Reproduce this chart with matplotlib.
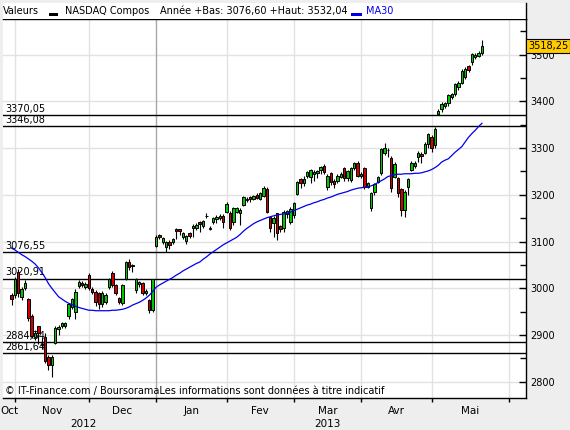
"""
NASDAQ Composite daily candles with MA30 and support/resistance levels (Boursorama style).
"""

import matplotlib
matplotlib.use("Agg")
import matplotlib.pyplot as plt
import matplotlib.transforms as mtransforms
from matplotlib.lines import Line2D
from matplotlib.patches import Rectangle
import numpy as np

# daily candles, 30 Oct 2012 -> mid May 2013
opens = [
    2986, 2986, 3035, 2982, 3000, 2977, 2941, 2896, 2919, 2880,
    2896, 2854, 2836, 2882, 2913, 2919, 2919, 2941, 2961, 2950,
    3005, 3012, 3002, 3028, 2998, 2993, 2990, 2966, 2971, 3003,
    3033, 3007, 2979, 2968, 3019, 3057, 3049, 2996, 3010, 3011,
    2990, 2975, 2954,
    3091, 3114, 3100, 3089, 3100, 3098, 3126, 3126, 3110, 3101,
    3118, 3128, 3130, 3141, 3134, 3155, 3126, 3141, 3148, 3150, 3155,
    3164, 3162, 3141, 3164, 3160, 3178, 3188, 3196, 3191, 3200,
    3192, 3198, 3212, 3153, 3140, 3160, 3133, 3128, 3158, 3142,
    3157, 3202, 3233, 3225, 3241, 3237, 3244, 3246, 3252, 3262,
    3217, 3246, 3230, 3230, 3238, 3257, 3235, 3232, 3257, 3269, 3240,
    3257, 3217, 3171, 3207, 3228, 3246, 3289, 3296, 3278, 3239,
    3235, 3212, 3167, 3217, 3253, 3262, 3280, 3288, 3290, 3308,
    3324, 3307,
    3372, 3383, 3390, 3396, 3410, 3415, 3430, 3440, 3453, 3475,
    3483, 3495, 3497, 3504,
]
highs = [
    2990, 3025, 3041, 3002, 3018, 2980, 2945, 2910, 2920, 2895,
    2904, 2858, 2858, 2920, 2922, 2928, 2927, 2968, 2980, 2998,
    3018, 3016, 3013, 3032, 3003, 2996, 2993, 2994, 2990, 3022,
    3036, 3010, 2982, 3010, 3058, 3062, 3051, 3022, 3016, 3014,
    2998, 2978, 3020,
    3114, 3116, 3110, 3102, 3104, 3108, 3128, 3127, 3120, 3115,
    3120, 3137, 3140, 3143, 3146, 3160, 3133, 3153, 3156, 3158, 3158,
    3184, 3165, 3174, 3174, 3172, 3198, 3196, 3198, 3200, 3203,
    3206, 3218, 3216, 3155, 3155, 3162, 3136, 3167, 3168, 3173,
    3185, 3230, 3236, 3240, 3251, 3256, 3252, 3253, 3262, 3265,
    3244, 3249, 3233, 3244, 3248, 3260, 3253, 3260, 3270, 3272, 3248,
    3260, 3228, 3205, 3226, 3240, 3300, 3310, 3300, 3282, 3270,
    3238, 3215, 3210, 3236, 3273, 3272, 3294, 3292, 3312, 3332,
    3327, 3346,
    3383, 3398, 3399, 3416, 3418, 3440, 3443, 3468, 3473, 3478,
    3504, 3503, 3507, 3532,
]
lows = [
    2964, 2980, 2982, 2975, 2996, 2930, 2893, 2890, 2880, 2870,
    2840, 2825, 2810, 2880, 2900, 2916, 2915, 2935, 2955, 2934,
    3000, 3002, 2998, 2996, 2988, 2962, 2956, 2960, 2966, 2998,
    3003, 2985, 2966, 2965, 3017, 3040, 3035, 2990, 3003, 2985,
    2985, 2948, 2950,
    3088, 3105, 3095, 3078, 3085, 3095, 3105, 3115, 3105, 3095,
    3108, 3110, 3125, 3120, 3130, 3150, 3124, 3138, 3140, 3145, 3130,
    3160, 3125, 3135, 3160, 3135, 3175, 3185, 3185, 3188, 3190,
    3188, 3195, 3160, 3120, 3110, 3103, 3120, 3120, 3150, 3138,
    3150, 3200, 3215, 3218, 3236, 3225, 3230, 3235, 3245, 3245,
    3210, 3220, 3215, 3225, 3235, 3230, 3230, 3228, 3253, 3237, 3235,
    3212, 3214, 3165, 3200, 3225, 3243, 3285, 3280, 3205, 3235,
    3195, 3155, 3153, 3200, 3250, 3258, 3270, 3267, 3288, 3300,
    3292, 3300,
    3370, 3378, 3385, 3390, 3405, 3412, 3425, 3436, 3448, 3462,
    3478, 3490, 3494, 3500,
]
closes = [
    2977, 3019, 2990, 2998, 3012, 2936, 2898, 2905, 2904, 2879,
    2845, 2836, 2852, 2916, 2918, 2925, 2925, 2966, 2977, 2993,
    3014, 3006, 3010, 3000, 2993, 2971, 2966, 2990, 2986, 3019,
    3007, 2989, 2971, 3007, 3056, 3045, 3048, 3019, 3013, 2989,
    2994, 2954, 3019,
    3110, 3110, 3108, 3100, 3093, 3105, 3123, 3123, 3118, 3112,
    3112, 3134, 3136, 3137, 3144, 3155, 3130, 3150, 3153, 3155, 3141,
    3180, 3130, 3171, 3171, 3168, 3195, 3192, 3190, 3198, 3194,
    3203, 3214, 3164, 3128, 3150, 3118, 3126, 3164, 3165, 3170,
    3182, 3227, 3225, 3233, 3248, 3252, 3248, 3250, 3259, 3248,
    3241, 3228, 3222, 3240, 3245, 3235, 3250, 3257, 3267, 3240, 3245,
    3217, 3225, 3203, 3223, 3237, 3297, 3299, 3295, 3214, 3266,
    3204, 3167, 3205, 3233, 3269, 3269, 3290, 3284, 3308, 3329,
    3299, 3341,
    3379, 3394, 3396, 3413, 3415, 3437, 3440, 3465, 3470, 3467,
    3501, 3500, 3504, 3518.25,
]
ma30 = [
    3086, 3082, 3077, 3072, 3068, 3063, 3058, 3052, 3044, 3034,
    3023, 3010, 3000, 2991, 2982, 2977, 2972, 2968, 2965, 2962,
    2959, 2957, 2955, 2953, 2953, 2952, 2952, 2952, 2952, 2952,
    2953, 2953, 2954, 2955, 2957, 2960, 2964, 2967, 2970, 2974,
    2979, 2985, 2993, 3002, 3007, 3011, 3015, 3019, 3023, 3028,
    3032, 3037, 3041, 3045, 3049, 3053, 3056, 3062, 3067, 3073,
    3078, 3083, 3088, 3093, 3097, 3101, 3105, 3109, 3115, 3122,
    3128, 3133, 3138, 3142, 3145, 3148, 3151, 3153, 3155, 3157,
    3158, 3159, 3160, 3163, 3166, 3169, 3172, 3175, 3178, 3180,
    3183, 3185, 3188, 3190, 3193, 3195, 3198, 3201, 3203, 3205,
    3207, 3210, 3212, 3214, 3215, 3216, 3217, 3219, 3222, 3226,
    3230, 3234, 3239, 3241, 3243, 3244, 3244, 3245, 3245, 3245,
    3246, 3246, 3247, 3249, 3251, 3254, 3258, 3263, 3270, 3274,
    3277, 3284, 3291, 3297, 3303, 3313, 3323, 3331, 3338, 3346,
    3353,
]

levels = [3370.05, 3346.08, 3076.55, 3020.91, 2884.34, 2861.64]
level_labels = ["3370,05", "3346,08", "3076,55", "3020,91", "2884,34", "2861,64"]

month_starts = [1, 23, 43, 64, 84, 104, 125, 148]   # first session of Nov .. Jun
month_names = ["Oct", "Nov", "Dec", "Jan", "Fev", "Mar", "Avr", "Mai"]
year_names = ["2012", "2013"]
year_pos = [21.5, 94]
year_break = 43

price_ticks = [2800, 2900, 3000, 3100, 3200, 3300, 3400, 3500]
last_label = "3518,25"

GREEN = "#00C800"
RED = "#D00000"
GRID = "#E2E2E2"
BG = "#EEEEEE"

W, H = 570, 430
fig = plt.figure(figsize=(W / 100, H / 100), dpi=100, facecolor=BG)
ax = fig.add_axes([3 / W, 32 / H, 523 / W, 379 / H])
ax.set_facecolor("white")

x = np.arange(len(closes))
o = np.array(opens, dtype=float)
c = np.array(closes, dtype=float)
hi = np.array(highs, dtype=float)
lo = np.array(lows, dtype=float)

ax.set_xlim(-2.53, 153.1)
ax.set_ylim(2765.3, 3576.0)

# grid
for p in price_ticks:
    ax.axhline(p, color=GRID, lw=1, zorder=0)
for m in month_starts:
    col = "#A8A8A8" if m == year_break else GRID
    ax.axvline(m, color=col, lw=1, zorder=0)

# support / resistance levels
for lvl, lab in zip(levels, level_labels):
    ax.axhline(lvl, color="black", lw=1, zorder=2)
    ax.annotate(lab, xy=(0.004, lvl), xycoords=("axes fraction", "data"),
                xytext=(0, 1), textcoords="offset points",
                ha="left", va="bottom", fontsize=7, zorder=2.5)

# candles
ax.vlines(x, lo, hi, color="black", lw=0.8, zorder=3)
up = c >= o
bottoms = np.minimum(o, c)
heights = np.abs(c - o)
ax.bar(x[up], heights[up], bottom=bottoms[up], width=0.72,
       color=GREEN, edgecolor="black", linewidth=0.7, zorder=3.5)
ax.bar(x[~up], heights[~up], bottom=bottoms[~up], width=0.72,
       color=RED, edgecolor="black", linewidth=0.7, zorder=3.5)

ax.plot(x, ma30, color="#0000EE", lw=0.9, zorder=4)

# axes styling
ax.spines["left"].set_visible(False)
for side in ["top", "right", "bottom"]:
    ax.spines[side].set_color("black")
    ax.spines[side].set_linewidth(1)

ax.yaxis.tick_right()
ax.set_yticks(price_ticks)
ax.set_yticklabels([str(p) for p in price_ticks])
ax.set_yticks([p + 50 for p in price_ticks], minor=True)
ax.tick_params(axis="y", which="major", direction="in", length=5, width=1,
               pad=3, labelsize=7)
ax.tick_params(axis="y", which="minor", direction="in", length=4, width=1)

label_pos = [-0.5] + [(a + b) / 2 for a, b in zip(month_starts[:-1], month_starts[1:])]
ax.set_xticks(month_starts)
ax.set_xticklabels([])
ax.set_xticks(label_pos, minor=True)
ax.set_xticklabels(month_names, minor=True)
ax.tick_params(axis="x", which="major", direction="out", length=3, width=1)
ax.tick_params(axis="x", which="minor", length=0, pad=6, labelsize=7.5)

trans = mtransforms.blended_transform_factory(ax.transData, ax.transAxes)
for yr, pos in zip(year_names, year_pos):
    ax.text(pos, -0.069, yr, transform=trans, ha="center", va="center",
            fontsize=7.5, clip_on=False)

ax.text(0.004, 0.019, "\u00a9 IT-Finance.com / BoursoramaLes informations sont données à titre indicatif",
        transform=ax.transAxes, ha="left", va="center", fontsize=7, zorder=5)

# last price box
ax.text(1.004, closes[-1], last_label,
        transform=mtransforms.blended_transform_factory(ax.transAxes, ax.transData),
        ha="left", va="center", fontsize=7, clip_on=False, zorder=6,
        bbox=dict(boxstyle="square,pad=0.22", facecolor="#FFCC00", edgecolor="black", linewidth=0.8))

# header strip
fig.patches.append(Rectangle((3 / W, 411 / H), 523 / W, 16 / H, transform=fig.transFigure,
                             facecolor="white", edgecolor="none", zorder=0))
fig.lines.append(Line2D([526 / W, 526 / W], [411 / H, 427 / H], transform=fig.transFigure,
                        color="black", lw=1))
hy = (H - 11) / H
fig.text(3 / W, hy, "Valeurs", fontsize=7, va="center", ha="left")
fig.patches.append(Rectangle((49 / W, (H - 16) / H), 9 / W, 3 / H, transform=fig.transFigure,
                             facecolor="black", edgecolor="none"))
fig.text(65 / W, hy, "NASDAQ Compos", fontsize=7, va="center", ha="left")
fig.text(160 / W, hy, "Année +Bas: 3076,60 +Haut: 3532,04", fontsize=7, va="center", ha="left")
fig.patches.append(Rectangle((351 / W, (H - 16) / H), 11 / W, 3 / H, transform=fig.transFigure,
                             facecolor="#0000EE", edgecolor="none"))
fig.text(366 / W, hy, "MA30", fontsize=7, va="center", ha="left", color="#0000EE")

fig.savefig("out.png", dpi=100, facecolor=BG)
